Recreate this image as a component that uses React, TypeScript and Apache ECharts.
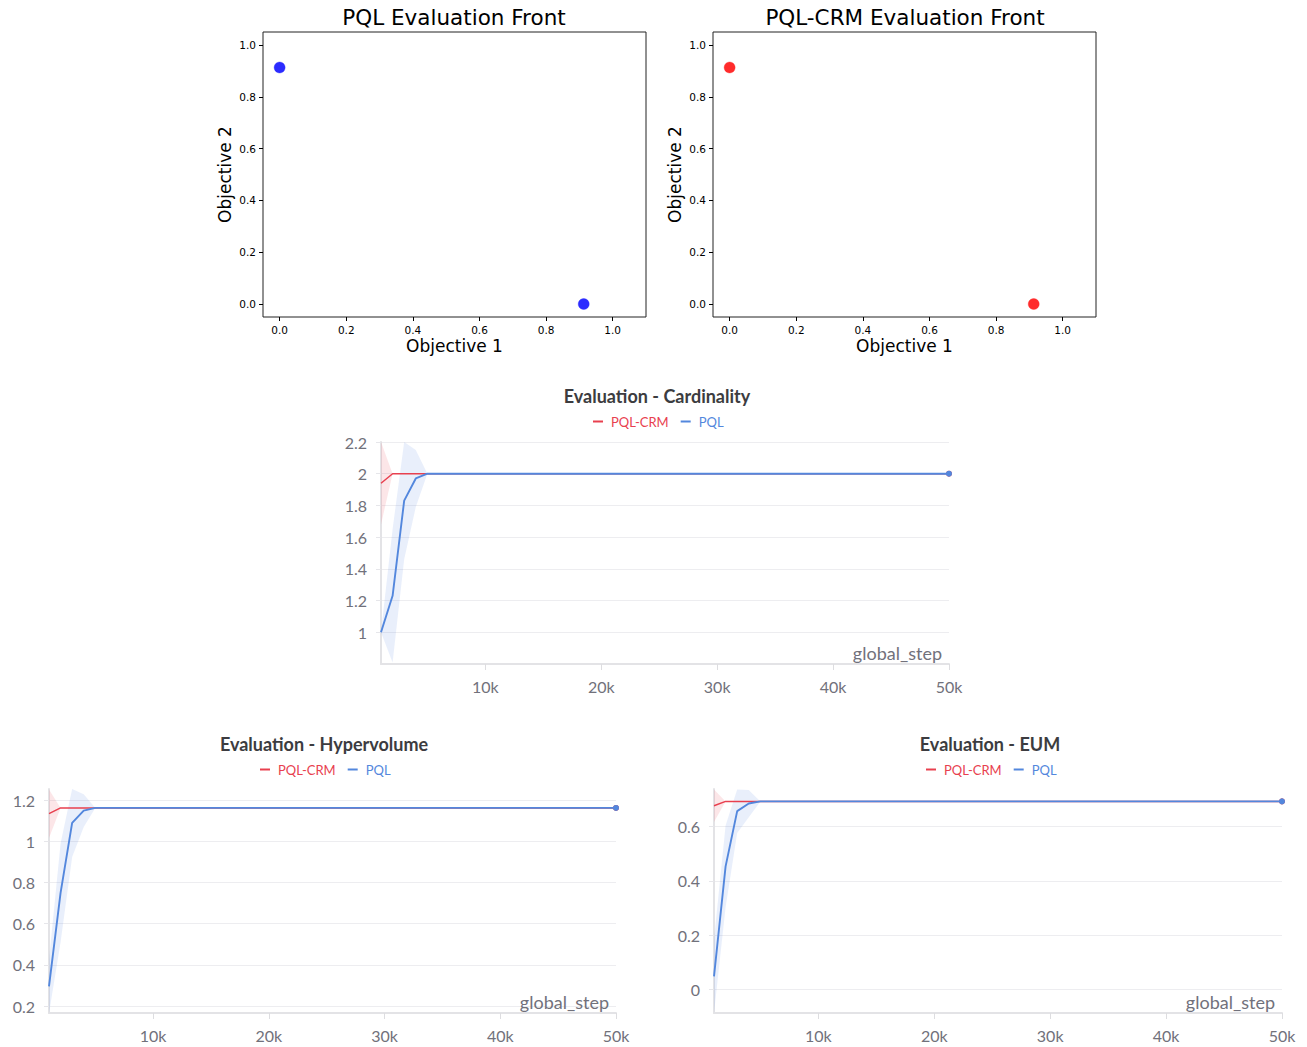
import React, { useEffect, useRef } from "react";
import * as echarts from "echarts";

// ---------- Data ----------
// Pareto fronts (matplotlib scatter plots)
const PQL_FRONT_X = [0.0, 0.913];
const PQL_FRONT_Y = [0.913, 0.0];
const CRM_FRONT_X = [0.0, 0.913];
const CRM_FRONT_Y = [0.913, 0.0];
const FRONT_TICKS = [0.0, 0.2, 0.4, 0.6, 0.8, 1.0];

// W&B style evaluation curves
const STEPS = [1000, 2000, 3000, 4000, 5000, 50000];
const X_TICKS = [10000, 20000, 30000, 40000, 50000];

const CARD_CRM_MEAN = [1.94, 2.0, 2.0, 2.0, 2.0, 2.0];
const CARD_CRM_STD = [0.26, 0.0, 0.0, 0.0, 0.0, 0.0];
const CARD_PQL_MEAN = [1.0, 1.23, 1.83, 1.97, 2.0, 2.0];
const CARD_PQL_STD = [0.0, 0.42, 0.37, 0.18, 0.0, 0.0];
const CARD_Y_TICKS = [1, 1.2, 1.4, 1.6, 1.8, 2, 2.2];

const HV_CRM_MEAN = [1.135, 1.163, 1.163, 1.163, 1.163, 1.163];
const HV_CRM_STD = [0.118, 0.0, 0.0, 0.0, 0.0, 0.0];
const HV_PQL_MEAN = [0.295, 0.75, 1.09, 1.15, 1.163, 1.163];
const HV_PQL_STD = [0.13, 0.24, 0.165, 0.08, 0.0, 0.0];
const HV_Y_TICKS = [0.2, 0.4, 0.6, 0.8, 1, 1.2];

const EUM_CRM_MEAN = [0.676, 0.692, 0.692, 0.692, 0.692, 0.692];
const EUM_CRM_STD = [0.06, 0.0, 0.0, 0.0, 0.0, 0.0];
const EUM_PQL_MEAN = [0.049, 0.453, 0.656, 0.684, 0.692, 0.692];
const EUM_PQL_STD = [0.135, 0.15, 0.08, 0.05, 0.0, 0.0];
const EUM_Y_TICKS = [0, 0.2, 0.4, 0.6];

// ---------- Styles ----------
const RED = "#E8404F";
const BLUE = "#5387DD";
const RED_BAND = "rgba(232,64,79,0.13)";
const BLUE_BAND = "rgba(83,135,221,0.13)";
const WB_FONT = "Lato, 'Noto Sans', sans-serif";
const MPL_FONT = "'DejaVu Sans', sans-serif";
const LABEL_GRAY = "#71717b";

function mplAxes(gridIndex: number) {
  const common = {
    gridIndex,
    type: "value" as const,
    min: -0.05,
    axisLine: { show: false, onZero: false },
    splitLine: { show: false },
    axisTick: {
      show: true,
      length: 4,
      inside: false,
      customValues: FRONT_TICKS,
      lineStyle: { color: "#000", width: 1 },
    },
    axisLabel: {
      customValues: FRONT_TICKS,
      formatter: (v: number) => v.toFixed(1),
      fontFamily: MPL_FONT,
      fontSize: 10.5,
      color: "#000",
      margin: 7,
    },
    nameLocation: "middle" as const,
    nameTextStyle: { fontFamily: MPL_FONT, fontSize: 17, color: "#000" },
  };
  return {
    x: { ...common, max: 1.1, name: "Objective 1", nameGap: 20 },
    y: { ...common, max: 1.05, name: "Objective 2", nameGap: 30 },
  };
}

function wbAxes(gridIndex: number, yMin: number, yMax: number, yTicks: number[]) {
  return {
    x: {
      gridIndex,
      type: "value" as const,
      min: STEPS[0],
      max: STEPS[STEPS.length - 1],
      axisLine: { show: true, onZero: false, lineStyle: { color: "#e3e3e6", width: 2 } },
      splitLine: { show: false },
      axisTick: {
        show: true,
        length: 6,
        customValues: X_TICKS,
        lineStyle: { color: "#dddde0", width: 1 },
      },
      axisLabel: {
        customValues: X_TICKS,
        formatter: (v: number) => v / 1000 + "k",
        fontFamily: WB_FONT,
        fontSize: 16,
        color: LABEL_GRAY,
        margin: 14,
      },
      name: "global_step",
      nameLocation: "end" as const,
      nameGap: -7,
      nameTextStyle: {
        fontFamily: WB_FONT,
        fontSize: 18,
        color: LABEL_GRAY,
        align: "right",
        verticalAlign: "bottom",
        padding: [0, 0, 2, 0],
      },
    },
    y: {
      gridIndex,
      type: "value" as const,
      min: yMin,
      max: yMax,
      axisLine: { show: true, onZero: false, lineStyle: { color: "#e3e3e6", width: 2 } },
      splitLine: { show: true, lineStyle: { color: "#ededf0", width: 1 } },
      axisTick: {
        show: true,
        length: 5,
        customValues: yTicks,
        lineStyle: { color: "#e6e6ea", width: 1 },
      },
      axisLabel: {
        customValues: yTicks,
        formatter: (v: number) => String(+v.toFixed(2)),
        fontFamily: WB_FONT,
        fontSize: 16,
        color: LABEL_GRAY,
        margin: 14,
      },
    },
  };
}

// Shaded band (mean ± std) drawn as one polygon through the axes' own scales.
function bandSeries(idx: number, key: string, mean: number[], std: number[], bandColor: string) {
  return {
    type: "custom",
    name: key + "-band",
    xAxisIndex: idx,
    yAxisIndex: idx,
    clip: true,
    silent: true,
    z: 1,
    data: [[STEPS[0], mean[0]]],
    renderItem: (_params: any, api: any) => {
      const upper = STEPS.map((s, i) => api.coord([s, mean[i] + std[i]]));
      const lower = STEPS.map((s, i) => api.coord([s, mean[i] - std[i]])).reverse();
      return {
        type: "polygon",
        shape: { points: upper.concat(lower) },
        style: { fill: bandColor, stroke: "none" },
      };
    },
  };
}

function meanSeries(
  idx: number,
  name: string,
  mean: number[],
  color: string,
  z: number,
  width: number
) {
  const last = STEPS.length - 1;
  return [
    {
      type: "line",
      name,
      xAxisIndex: idx,
      yAxisIndex: idx,
      symbol: "none",
      lineStyle: { color, width },
      itemStyle: { color },
      data: STEPS.map((s, i) => [s, mean[i]]),
      z,
    },
    {
      type: "scatter",
      name: name + "-end",
      xAxisIndex: idx,
      yAxisIndex: idx,
      symbolSize: 6,
      itemStyle: { color, opacity: 1 },
      data: [[STEPS[last], mean[last]]],
      z,
    },
  ];
}

function wbChart(
  idx: number,
  tag: string,
  crmMean: number[],
  crmStd: number[],
  pqlMean: number[],
  pqlStd: number[]
) {
  return [
    bandSeries(idx, tag + "crm", crmMean, crmStd, RED_BAND),
    bandSeries(idx, tag + "pql", pqlMean, pqlStd, BLUE_BAND),
    ...meanSeries(idx, "PQL-CRM", crmMean, RED, 3, 1.5),
    ...meanSeries(idx, "PQL", pqlMean, BLUE, 4, 1.9),
  ];
}

function legendAt(left: number, top: number) {
  return {
    left,
    top,
    padding: 0,
    icon: "rect",
    itemWidth: 10,
    itemHeight: 2,
    itemGap: 12,
    selectedMode: false,
    data: [
      { name: "PQL-CRM", textStyle: { color: RED } },
      { name: "PQL", textStyle: { color: BLUE } },
    ],
    textStyle: { fontFamily: WB_FONT, fontSize: 13, padding: [0, 0, 0, 3] },
  };
}

function wbTitle(text: string, center: number, top: number) {
  return {
    text,
    left: center,
    top,
    textAlign: "center",
    padding: 0,
    textStyle: { fontFamily: WB_FONT, fontSize: 18, fontWeight: "bold", color: "#3c3c40" },
  };
}

function mplTitle(text: string, center: number) {
  return {
    text,
    left: center,
    top: 6,
    textAlign: "center",
    padding: 0,
    textStyle: { fontFamily: MPL_FONT, fontSize: 21.5, fontWeight: "normal", color: "#000" },
  };
}

export default function App() {
  const ref = useRef<HTMLDivElement>(null);

  useEffect(() => {
    if (!ref.current) return;
    const chart = echarts.init(ref.current, undefined, { renderer: "svg" });

    const a0 = mplAxes(0);
    const a1 = mplAxes(1);
    const a2 = wbAxes(2, 0.8, 2.2, CARD_Y_TICKS);
    const a3 = wbAxes(3, 0.166, 1.255, HV_Y_TICKS);
    const a4 = wbAxes(4, -0.086, 0.7375, EUM_Y_TICKS);

    const option = {
      animation: false,
      backgroundColor: "#fff",
      title: [
        mplTitle("PQL Evaluation Front", 454),
        mplTitle("PQL-CRM Evaluation Front", 905),
        wbTitle("Evaluation - Cardinality", 657, 387),
        wbTitle("Evaluation - Hypervolume", 324, 735),
        wbTitle("Evaluation - EUM", 990, 735),
      ],
      legend: [legendAt(593, 415), legendAt(260, 763), legendAt(926, 763)],
      grid: [
        { left: 263, top: 32, width: 383, height: 285, show: true, borderColor: "#222", borderWidth: 1, backgroundColor: "transparent" },
        { left: 713, top: 32, width: 383, height: 285, show: true, borderColor: "#222", borderWidth: 1, backgroundColor: "transparent" },
        { left: 381, top: 442, width: 568, height: 222 },
        { left: 49, top: 789, width: 567, height: 224 },
        { left: 714, top: 789, width: 568, height: 224 },
      ],
      xAxis: [a0.x, a1.x, a2.x, a3.x, a4.x],
      yAxis: [a0.y, a1.y, a2.y, a3.y, a4.y],
      series: [
        {
          type: "scatter",
          name: "PQL front",
          xAxisIndex: 0,
          yAxisIndex: 0,
          symbolSize: 11,
          itemStyle: { color: "#2b2bff", opacity: 1, borderColor: "rgba(43,43,255,0.35)", borderWidth: 1 },
          data: PQL_FRONT_X.map((x, i) => [x, PQL_FRONT_Y[i]]),
        },
        {
          type: "scatter",
          name: "PQL-CRM front",
          xAxisIndex: 1,
          yAxisIndex: 1,
          symbolSize: 11,
          itemStyle: { color: "#ff2b2b", opacity: 1, borderColor: "rgba(255,43,43,0.35)", borderWidth: 1 },
          data: CRM_FRONT_X.map((x, i) => [x, CRM_FRONT_Y[i]]),
        },
        ...wbChart(2, "card", CARD_CRM_MEAN, CARD_CRM_STD, CARD_PQL_MEAN, CARD_PQL_STD),
        ...wbChart(3, "hv", HV_CRM_MEAN, HV_CRM_STD, HV_PQL_MEAN, HV_PQL_STD),
        ...wbChart(4, "eum", EUM_CRM_MEAN, EUM_CRM_STD, EUM_PQL_MEAN, EUM_PQL_STD),
      ],
    };

    chart.setOption(option as any);
    return () => {
      chart.dispose();
    };
  }, []);

  return (
    <div
      ref={ref}
      style={{ position: "absolute", left: 0, top: 0, width: 1307, height: 1047, background: "#fff" }}
    />
  );
}
